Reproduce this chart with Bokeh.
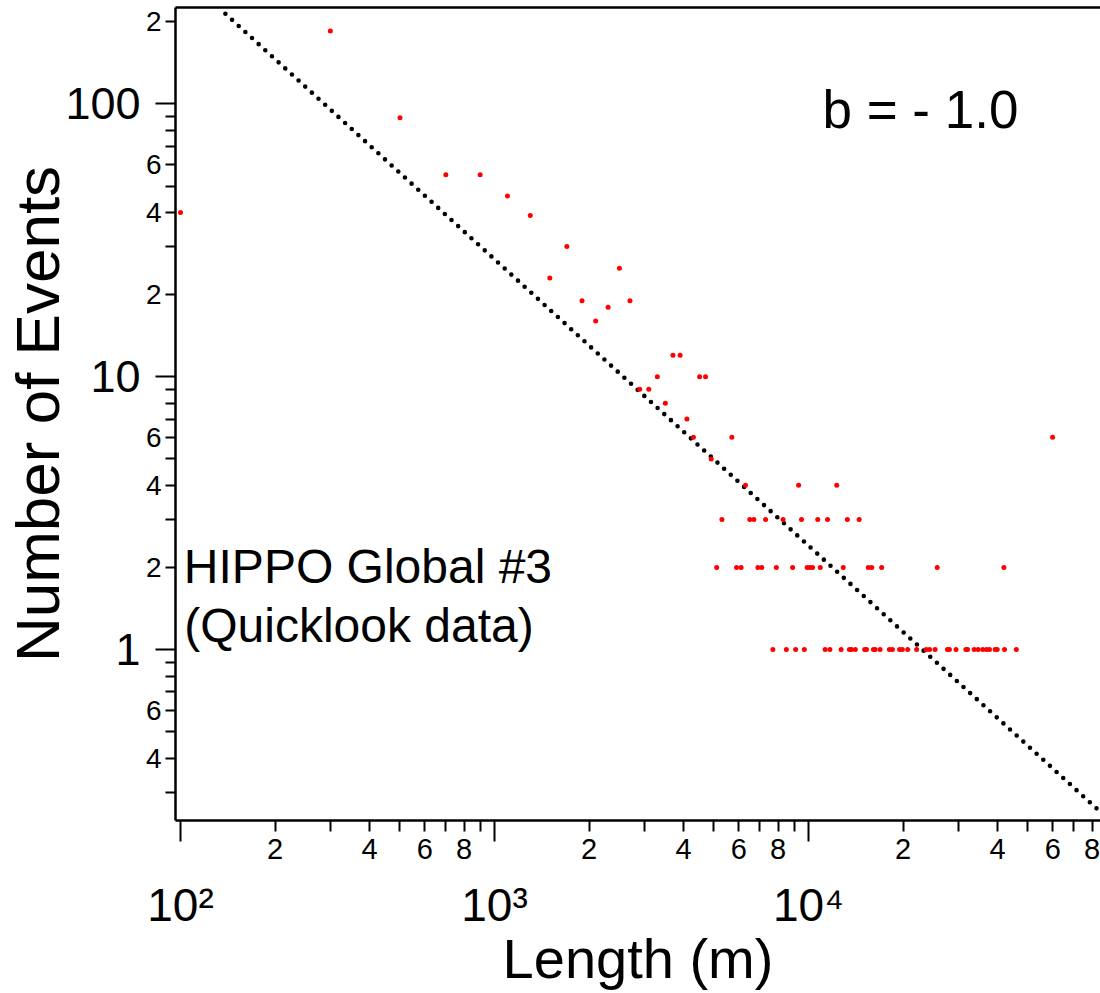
from bokeh.plotting import figure
from bokeh.models import LogAxis, FixedTicker, Range1d, Label
from bokeh.embed import file_html
from bokeh.resources import INLINE

FONT = "Liberation Sans"

# ---------------- data ----------------
# bins holding 4 or more events: length (m) / number of events
len_multi = [100, 300, 500, 700, 900, 1100, 1300, 1500, 1700, 1900, 2100, 2300,
             2500, 2700, 2900, 3100, 3300, 3500, 3700, 3900, 4100, 4300, 4500,
             4700, 4900, 5700, 6300, 9300, 12300, 59900]
n_multi = [40, 185, 89, 55, 55, 46, 39, 23, 30, 19, 16, 18,
           25, 19, 9, 9, 10, 8, 12, 12, 7, 6, 10,
           10, 5, 6, 4, 4, 4, 6]
# bins holding 3 events
len_three = [5300, 6500, 6700, 7300, 8300, 9500, 10700, 11500, 13300, 14500]
# bins holding 2 events
len_two = [5100, 5900, 6100, 6900, 7100, 7900, 8900, 9900, 10100, 10300, 10900,
           12900, 15500, 15900, 17100, 25700, 41900]
# bins holding 1 event
len_one = [7700, 8500, 9100, 9700, 11300, 11700, 12700, 13500, 13700, 14100,
           15100, 15300, 16100, 16300, 16900, 18100, 18500, 19500, 19900, 20700,
           22100, 23700, 24300, 25300, 27700, 28100, 29500, 31700, 32100, 33700,
           34700, 35900, 36900, 37700, 39300, 39900, 42100, 45900]

# power-law fit line (b = -1.0), end points
fit_len = [139, 85100]
fit_n = [214, 0.254]

# axes
x_limits = [96.4, 85100]
y_limits = [0.2364, 225.7]
x_major_ticks = [100, 1000, 10000]
x_major_labels = ["10\u00b2", "10\u00b3", "10\u2074"]
x_small_ticks = [200, 400, 600, 800, 2000, 4000, 6000, 8000, 20000, 40000, 60000, 80000]
x_small_labels = ["2", "4", "6", "8", "2", "4", "6", "8", "2", "4", "6", "8"]
x_plain_ticks = [300, 500, 700, 900, 3000, 5000, 7000, 9000, 30000, 50000, 70000]
y_major_ticks = [1, 10, 100]
y_major_labels = ["1", "10", "100"]
y_small_ticks = [0.4, 0.6, 2, 4, 6, 20, 40, 60, 200]
y_small_labels = ["4", "6", "2", "4", "6", "2", "4", "6", "2"]
y_plain_ticks = [0.3, 0.5, 0.7, 0.8, 0.9, 3, 5, 7, 8, 9, 30, 50, 70, 80, 90]

lengths = len_multi + len_three + len_two + len_one
counts = n_multi + [3] * len(len_three) + [2] * len(len_two) + [1] * len(len_one)

# ---------------- figure ----------------
p = figure(width=1100, height=993, x_axis_type="log", y_axis_type="log",
           x_range=Range1d(*x_limits), y_range=Range1d(*y_limits),
           x_axis_location=None, y_axis_location=None,
           toolbar_location=None, output_backend="svg",
           min_border_left=175, min_border_right=0, min_border_top=7,
           min_border_bottom=173,
           background_fill_color="white", border_fill_color="white")
p.outline_line_color = None
for g in p.grid:
    g.visible = False


def make_axis(ticks, labels, minor, size, standoff, tick_out, minor_out,
              line_width=None):
    ax = LogAxis(ticker=FixedTicker(ticks=ticks, minor_ticks=minor))
    ax.major_label_overrides = {t: l for t, l in zip(ticks, labels)}
    ax.major_label_text_font = FONT
    ax.major_label_text_font_size = size
    ax.major_label_text_color = "black"
    ax.major_label_standoff = standoff
    ax.major_tick_in = 0
    ax.major_tick_out = tick_out
    ax.minor_tick_in = 0
    ax.minor_tick_out = minor_out
    ax.major_tick_line_color = "black" if tick_out else None
    ax.major_tick_line_width = 2
    ax.minor_tick_line_color = "black" if minor_out else None
    ax.minor_tick_line_width = 2
    if line_width:
        ax.axis_line_color = "black"
        ax.axis_line_width = line_width
    else:
        ax.axis_line_color = None
    ax.axis_label_text_font = FONT
    ax.axis_label_text_font_style = "normal"
    ax.axis_label_text_color = "black"
    return ax


# left side: all ticks + small labels (inner), big labels + title (outer)
y_ticks_ax = make_axis(y_small_ticks + y_plain_ticks,
                       y_small_labels + [""] * len(y_plain_ticks),
                       y_major_ticks, "28px", -6, 10, 20, line_width=2.5)
y_big_ax = make_axis(y_major_ticks, y_major_labels, [], "45px", 2, 0, 0)
y_big_ax.axis_label = "Number of Events"
y_big_ax.axis_label_text_font_size = "62px"
y_big_ax.axis_label_standoff = -10
p.add_layout(y_ticks_ax, "left")
p.add_layout(y_big_ax, "left")

# bottom side
x_ticks_ax = make_axis(x_small_ticks + x_plain_ticks,
                       x_small_labels + [""] * len(x_plain_ticks),
                       x_major_ticks, "29px", -3, 11, 21, line_width=2.5)
x_big_ax = make_axis(x_major_ticks, x_major_labels, [], "46px", 17, 0, 0)
x_big_ax.axis_label = "Length (m)"
x_big_ax.axis_label_text_font_size = "56px"
x_big_ax.axis_label_standoff = -7
p.add_layout(x_ticks_ax, "below")
p.add_layout(x_big_ax, "below")

# top border line
top_ax = make_axis([], [], [], "1px", 0, 0, 0, line_width=2.5)
p.add_layout(top_ax, "above")

# fit line (dotted) and the data
p.line(fit_len, fit_n, line_color="black", line_width=4.6,
       line_dash="0 9", line_cap="round")
p.scatter(lengths, counts, size=5, fill_color="#ff0000", line_color=None)

# texts inside the frame
p.add_layout(Label(x=11080, y=95.5, text="b = - 1.0",
                   text_align="left", text_baseline="alphabetic",
                   text_font=FONT, text_font_size="53px", text_color="black"))
p.add_layout(Label(x=102.5, y=2.022, text="HIPPO Global #3",
                   text_align="left", text_baseline="alphabetic",
                   text_font=FONT, text_font_size="48px", text_color="black"))
p.add_layout(Label(x=102.8, y=1.229, text="(Quicklook data)",
                   text_align="left", text_baseline="alphabetic",
                   text_font=FONT, text_font_size="48px", text_color="black"))

open("out.html", "w").write(file_html(p, INLINE))
